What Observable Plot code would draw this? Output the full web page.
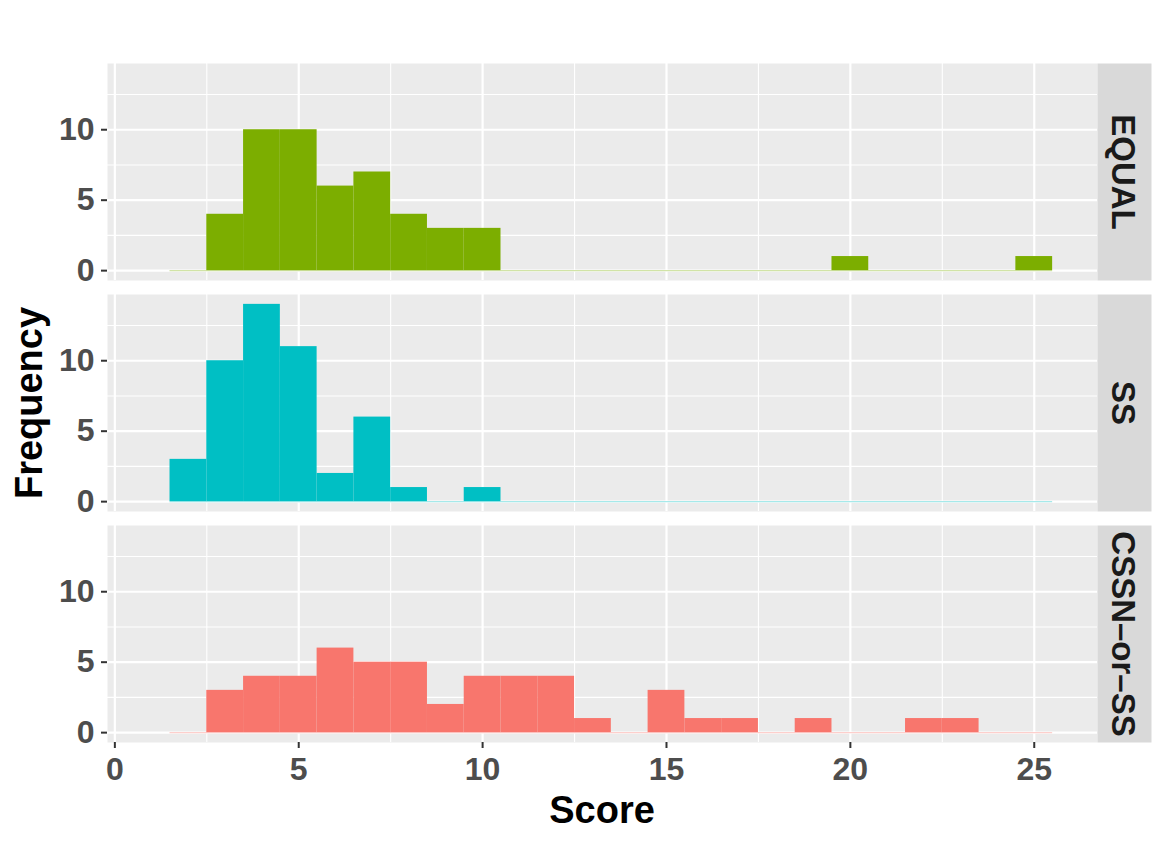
<!DOCTYPE html>
<html>
<head>
<meta charset="utf-8">
<script src="https://cdn.jsdelivr.net/npm/d3@7"></script>
<script src="https://cdn.jsdelivr.net/npm/@observablehq/plot@0.6"></script>
<style>
  html, body { margin: 0; padding: 0; background: white; }
  #chart svg { display: block; }
</style>
</head>
<body>
<div id="chart"></div>
<script>
// ---- data ----
const groups = ["EQUAL", "SS", "CSSN–or–SS"];
const groupColors = ["#7CAE00", "#00BFC4", "#F8766D"];
const binCenters = [2, 3, 4, 5, 6, 7, 8, 9, 10, 11, 12, 13, 14, 15, 16, 17, 18, 19, 20, 21, 22, 23, 24, 25];
const equalCounts = [0, 4, 10, 10, 6, 7, 4, 3, 3, 0, 0, 0, 0, 0, 0, 0, 0, 0, 1, 0, 0, 0, 0, 1];
const ssCounts    = [3, 10, 14, 11, 2, 6, 1, 0, 1, 0, 0, 0, 0, 0, 0, 0, 0, 0, 0, 0, 0, 0, 0, 0];
const cssnCounts  = [0, 3, 4, 4, 6, 5, 5, 2, 4, 4, 4, 1, 0, 3, 1, 1, 0, 1, 0, 0, 1, 1, 0, 0];
const xMajorTicks = [0, 5, 10, 15, 20, 25];
const xMinorTicks = [2.5, 7.5, 12.5, 17.5, 22.5];
const yMajorTicks = [0, 5, 10];
const yMinorTicks = [2.5, 7.5, 12.5];
const xTitle = "Score";
const yTitle = "Frequency";

// ---- build tables ----
const countsByGroup = [equalCounts, ssCounts, cssnCounts];
const binWidth = 1;
const bars = [];
groups.forEach((g, gi) => {
  countsByGroup[gi].forEach((c, i) => {
    if (c > 0) bars.push({group: g, x1: binCenters[i] - binWidth / 2, x2: binCenters[i] + binWidth / 2, count: c});
  });
});
const zeroLines = groups.map(g => ({
  group: g,
  x1: d3.min(binCenters) - binWidth / 2,
  x2: d3.max(binCenters) + binWidth / 2
}));

const W = 1163, H = 844;
const mL = 107, mR = 66, mT = 63, mB = 101;
const stripWidth = 54;
const panelWidth = W - mL - mR;

const chart = Plot.plot({
  width: W,
  height: H,
  marginLeft: mL,
  marginRight: mR,
  marginTop: mT,
  marginBottom: mB,
  style: {fontFamily: "'Liberation Sans', Arial, sans-serif", background: "white"},
  x: {domain: [-0.2, 26.72], axis: null},
  y: {domain: [-0.7, 14.7], axis: null},
  fy: {domain: groups, axis: null, paddingInner: 0.0606, paddingOuter: 0},
  color: {domain: groups, range: groupColors},
  marks: [
    Plot.frame({fill: "#EBEBEB"}),
    Plot.frame({fill: "#D9D9D9", insetLeft: panelWidth, insetRight: -stripWidth}),
    Plot.gridX(xMinorTicks, {stroke: "white", strokeOpacity: 1, strokeWidth: 1.1}),
    Plot.gridY(yMinorTicks, {stroke: "white", strokeOpacity: 1, strokeWidth: 1.1}),
    Plot.gridX(xMajorTicks, {stroke: "white", strokeOpacity: 1, strokeWidth: 2.2}),
    Plot.gridY(yMajorTicks, {stroke: "white", strokeOpacity: 1, strokeWidth: 2.2}),
    Plot.ruleY(zeroLines, {y: 0, x1: "x1", x2: "x2", fy: "group", stroke: "group", strokeOpacity: 0.35, strokeWidth: 1.2}),
    Plot.rectY(bars, {x1: "x1", x2: "x2", y: "count", fy: "group", fill: "group"}),
    Plot.axisX(xMajorTicks, {tickSize: 6, tickPadding: 9, fontSize: 32, fontWeight: "bold", stroke: "#333333", fill: "#4D4D4D", strokeWidth: 2, label: null}),
    Plot.axisY(yMajorTicks, {tickSize: 6, tickPadding: 7, fontSize: 32, fontWeight: "bold", stroke: "#333333", fill: "#4D4D4D", strokeWidth: 2, label: null}),
    Plot.text(groups, {fy: d => d, text: d => d, frameAnchor: "right", textAnchor: "middle", dx: 25, rotate: 90, fontSize: 33, fontWeight: "bold", fill: "#1A1A1A"})
  ]
});

document.getElementById("chart").appendChild(chart);

const svg = d3.select(chart);

// axis titles
svg.append("text")
  .attr("transform", `translate(42,${(mT + H - mB) / 2}) rotate(-90)`)
  .attr("text-anchor", "middle")
  .attr("font-size", 38)
  .attr("font-weight", "bold")
  .attr("fill", "black")
  .text(yTitle);
svg.append("text")
  .attr("x", mL + panelWidth / 2)
  .attr("y", 823)
  .attr("text-anchor", "middle")
  .attr("font-size", 38)
  .attr("font-weight", "bold")
  .attr("fill", "black")
  .text(xTitle);
</script>
</body>
</html>
